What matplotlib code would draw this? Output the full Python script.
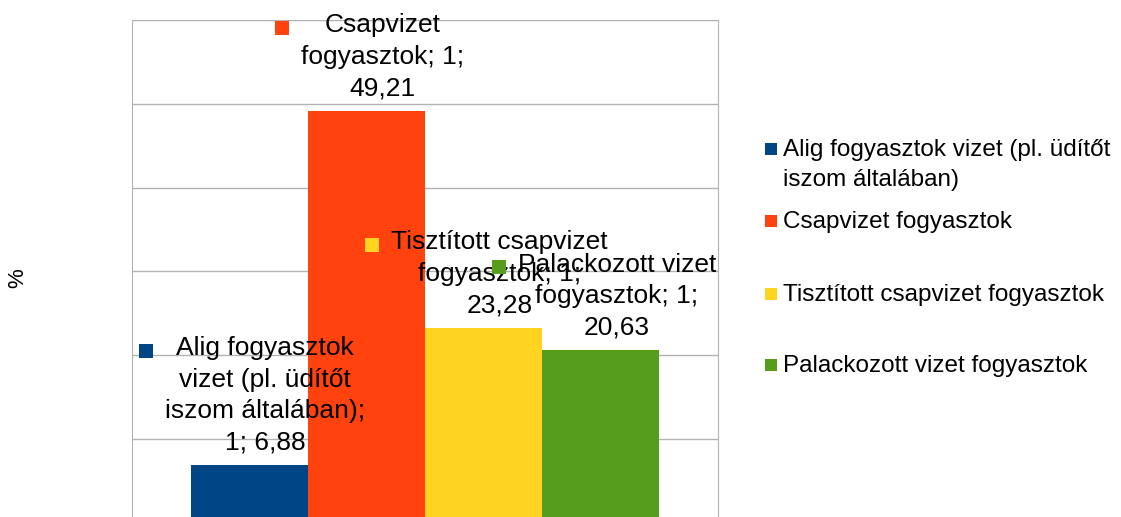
# Water consumption habits: share of respondents per group (%)

import matplotlib.pyplot as plt
from matplotlib.patches import Rectangle
from matplotlib.transforms import IdentityTransform

plt.rcParams['font.family'] = ['Liberation Sans', 'DejaVu Sans']

categories = [
    "Alig fogyasztok vizet (pl. üdítőt iszom általában)",
    "Csapvizet fogyasztok",
    "Tisztított csapvizet fogyasztok",
    "Palackozott vizet fogyasztok",
]
legend_labels = [
    "Alig fogyasztok vizet (pl. üdítőt\niszom általában)",
    "Csapvizet fogyasztok",
    "Tisztított csapvizet fogyasztok",
    "Palackozott vizet fogyasztok",
]
point_labels = [
    "Alig fogyasztok\nvizet (pl. üdítőt\niszom általában);\n1; 6,88",
    "Csapvizet\nfogyasztok; 1;\n49,21",
    "Tisztított csapvizet\nfogyasztok; 1;\n23,28",
    "Palackozott vizet\nfogyasztok; 1;\n20,63",
]
values = [6.88, 49.21, 23.28, 20.63]
colors = ["#004586", "#ff420e", "#ffd320", "#579d1c"]

W, H = 1121, 517
fig = plt.figure(figsize=(W / 100, H / 100), dpi=100)
ax = fig.add_axes([132 / W, (H - 522.4) / H, 586 / W, 502.2 / H])

bar_w = 0.2
xs = [-0.3, -0.1, 0.1, 0.3]
ax.bar(xs, values, width=bar_w, color=colors, zorder=2)
ax.set_xlim(-0.5, 0.5)
ax.set_ylim(0, 60)
ax.set_yticks(range(0, 61, 10))
ax.set_xticks([])
ax.tick_params(left=False, labelleft=False)
ax.grid(axis='y', color='#b3b3b3', linewidth=1, zorder=0)
for sp in ax.spines.values():
    sp.set_color('#b3b3b3')
fig.text(18 / W, 1 - 278 / H, "%", rotation=90, fontsize=16, ha='center', va='center')

# data labels with a small colour key to their left
sq = 14
gap = 12
texts = []
for x, v, lab in zip(xs, values, point_labels):
    t = ax.annotate(lab, xy=(x, v), xytext=(16 * 0.72, 10 * 0.72),
                    textcoords='offset points', ha='center', va='bottom',
                    multialignment='center', fontsize=19, linespacing=1.4,
                    zorder=5)
    texts.append(t)

fig.canvas.draw()
r = fig.canvas.get_renderer()
for t, c, lab in zip(texts, colors, point_labels):
    bb = t.get_window_extent(r)
    nlines = lab.count("\n") + 1
    line_h = bb.height / nlines
    cy = bb.y1 - line_h / 2
    fig.add_artist(Rectangle((bb.x0 - gap - sq, cy - sq / 2), sq, sq,
                             facecolor=c, edgecolor='none',
                             transform=IdentityTransform(), zorder=6))

# legend, drawn by hand to follow the reference spacing
leg_y = [149, 221, 294, 365]
for lab, c, y in zip(legend_labels, colors, leg_y):
    fig.add_artist(Rectangle((765, H - y - 6), 12, 12, facecolor=c,
                             edgecolor='none', transform=IdentityTransform()))
    fig.text(783 / W, 1 - (y - 10) / H, lab, fontsize=17.5, ha='left',
             va='top', linespacing=1.45)

fig.savefig("out.png", dpi=100)
